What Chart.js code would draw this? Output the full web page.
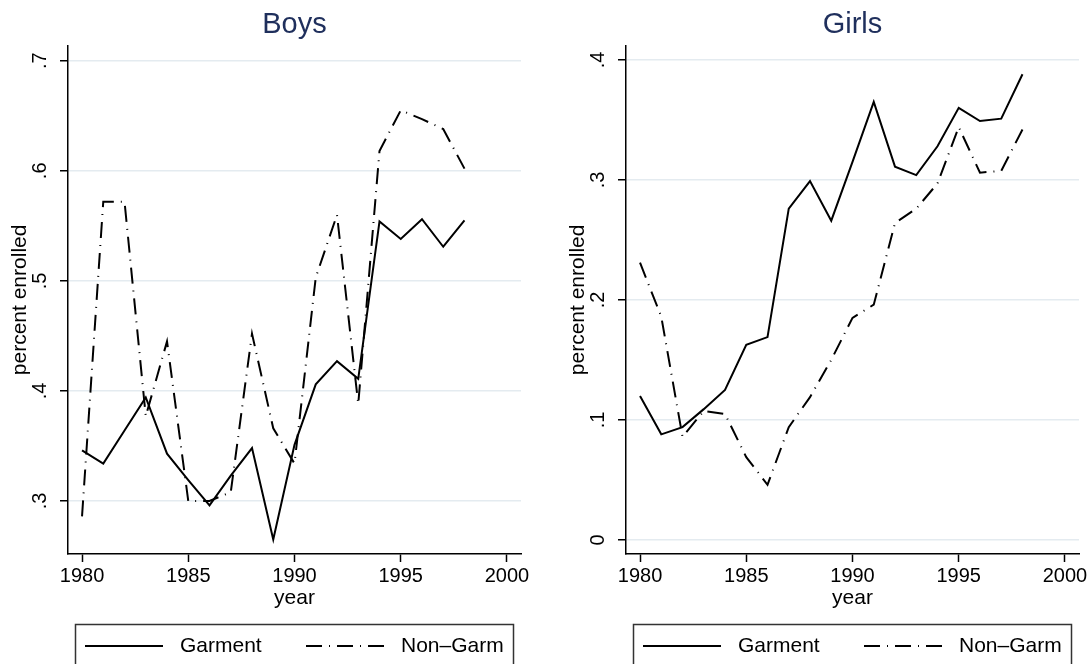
<!DOCTYPE html>
<html>
<head>
<meta charset="utf-8">
<script src="https://cdn.jsdelivr.net/npm/chart.js@4.4.1/dist/chart.umd.min.js"></script>
<style>
  html, body { margin: 0; padding: 0; background: #fff; }
  #wrap { position: relative; width: 1090px; height: 664px; overflow: hidden; }
  #boysBox { position: absolute; left: 0; top: 0; width: 545px; height: 664px; }
  #girlsBox { position: absolute; left: 558px; top: 0; width: 532px; height: 664px; }
</style>
</head>
<body>
<div id="wrap">
  <div id="boysBox"><canvas id="boysChart"></canvas></div>
  <div id="girlsBox"><canvas id="girlsChart"></canvas></div>
</div>
<script>
// years on the x axis
const years = [1980, 1981, 1982, 1983, 1984, 1985, 1986, 1987, 1988, 1989,
               1990, 1991, 1992, 1993, 1994, 1995, 1996, 1997, 1998];
const xTicks = [1980, 1985, 1990, 1995, 2000];

// Boys, percent enrolled
const boysGarment = [0.346, 0.334, 0.364, 0.394, 0.343, 0.319, 0.296, 0.323, 0.348, 0.265,
                     0.351, 0.406, 0.427, 0.411, 0.554, 0.538, 0.556, 0.531, 0.555];
const boysNonGarm = [0.286, 0.572, 0.572, 0.377, 0.445, 0.300, 0.300, 0.308, 0.452, 0.366,
                     0.334, 0.503, 0.560, 0.388, 0.618, 0.655, 0.647, 0.638, 0.602];
const boysYTicks = [0.3, 0.4, 0.5, 0.6, 0.7];

// Girls, percent enrolled
const girlsGarment = [0.120, 0.088, 0.094, 0.109, 0.125, 0.1625, 0.169, 0.276, 0.299, 0.266,
                      0.315, 0.365, 0.311, 0.304, 0.328, 0.360, 0.349, 0.351, 0.388];
const girlsNonGarm = [0.231, 0.186, 0.086, 0.1075, 0.105, 0.069, 0.046, 0.094, 0.119, 0.150,
                      0.185, 0.196, 0.264, 0.276, 0.297, 0.344, 0.306, 0.3075, 0.342];
const girlsYTicks = [0, 0.1, 0.2, 0.3, 0.4];

const FONT = '"Liberation Sans", Arial, sans-serif';
const dashDot = [16, 7, 1, 7];

// stata style legend: framed box under the plot
const stataLegend = {
    id: 'stataLegend',
    afterDraw(chart) {
        const ctx = chart.ctx;
        ctx.save();
        ctx.setLineDash([]);
        ctx.strokeStyle = '#333';
        ctx.lineWidth = 1.5;
        ctx.strokeRect(75.5, 624.5, 438, 60);
        chart.data.datasets.forEach(function(ds, i) {
            const x0 = 85 + i * 221;
            ctx.strokeStyle = ds.borderColor;
            ctx.lineWidth = ds.borderWidth;
            ctx.setLineDash(ds.borderDash || []);
            ctx.beginPath();
            ctx.moveTo(x0, 646);
            ctx.lineTo(x0 + 78, 646);
            ctx.stroke();
            ctx.setLineDash([]);
            ctx.fillStyle = '#000';
            ctx.font = '21px ' + FONT;
            ctx.textBaseline = 'middle';
            ctx.textAlign = 'left';
            ctx.fillText(ds.label, x0 + 95, 646);
        });
        ctx.restore();
    }
};

function fmt(v) {
    if (v === 0) return '0';
    return String(v).replace(/^0\./, '.');
}

function makePanel(id, title, garment, nonGarm, yTicks, yMin, yMax, padRight) {
    const ctx = document.getElementById(id).getContext('2d');
    return new Chart(ctx, {
        type: 'line',
        data: {
            labels: years,
            datasets: [
                {
                    label: 'Garment',
                    data: years.map((y, i) => ({x: y, y: garment[i]})),
                    borderColor: '#000',
                    borderWidth: 2,
                    pointRadius: 0,
                    tension: 0,
                    fill: false
                },
                {
                    label: 'Non\u2013Garm',
                    data: years.map((y, i) => ({x: y, y: nonGarm[i]})),
                    borderColor: '#000',
                    borderWidth: 2,
                    borderDash: dashDot,
                    pointRadius: 0,
                    tension: 0,
                    fill: false
                }
            ]
        },
        options: {
            responsive: true,
            maintainAspectRatio: false,
            animation: false,
            layout: { padding: { left: 0, right: padRight, top: 0, bottom: 50 } },
            scales: {
                x: {
                    type: 'linear',
                    min: 1979.34,
                    max: 2000.66,
                    afterBuildTicks: s => { s.ticks = xTicks.map(v => ({value: v})); },
                    afterFit: s => { s.height = 60; },
                    grid: { drawOnChartArea: false, drawTicks: true, tickLength: 8, tickColor: '#000', tickWidth: 1.5 },
                    border: { display: true, color: '#000', width: 1.5 },
                    ticks: {
                        color: '#000',
                        font: { family: FONT, size: 20 },
                        padding: 2,
                        maxRotation: 0,
                        callback: v => String(v)
                    },
                    title: {
                        display: true,
                        text: 'year',
                        color: '#000',
                        font: { family: FONT, size: 21 },
                        padding: { top: 0, bottom: 3 }
                    }
                },
                y: {
                    min: yMin,
                    max: yMax,
                    afterBuildTicks: s => { s.ticks = yTicks.map(v => ({value: v})); },
                    afterFit: s => { s.width = 68; },
                    grid: { color: '#e4ebf0', lineWidth: 1.5, drawTicks: true, tickLength: 8, tickColor: '#000', tickWidth: 1.5 },
                    border: { display: true, color: '#000', width: 1.5 },
                    ticks: {
                        color: '#000',
                        font: { family: FONT, size: 20 },
                        padding: 11,
                        minRotation: 90,
                        maxRotation: 90,
                        crossAlign: 'center',
                        callback: v => fmt(v)
                    },
                    title: {
                        display: true,
                        text: 'percent enrolled',
                        color: '#000',
                        font: { family: FONT, size: 21 },
                        padding: { top: 8, bottom: 0 }
                    }
                }
            },
            plugins: {
                legend: { display: false },
                tooltip: { enabled: false },
                title: {
                    display: true,
                    text: title,
                    fullSize: false,
                    color: '#1f2f5c',
                    font: { family: FONT, size: 29, weight: 'normal' },
                    padding: { top: 8, bottom: 3 }
                }
            }
        },
        plugins: [stataLegend]
    });
}

makePanel('boysChart', 'Boys', boysGarment, boysNonGarm, boysYTicks, 0.2518, 0.7136, 24);
makePanel('girlsChart', 'Girls', girlsGarment, girlsNonGarm, girlsYTicks, -0.0117, 0.4117, 11);
</script>
</body>
</html>
